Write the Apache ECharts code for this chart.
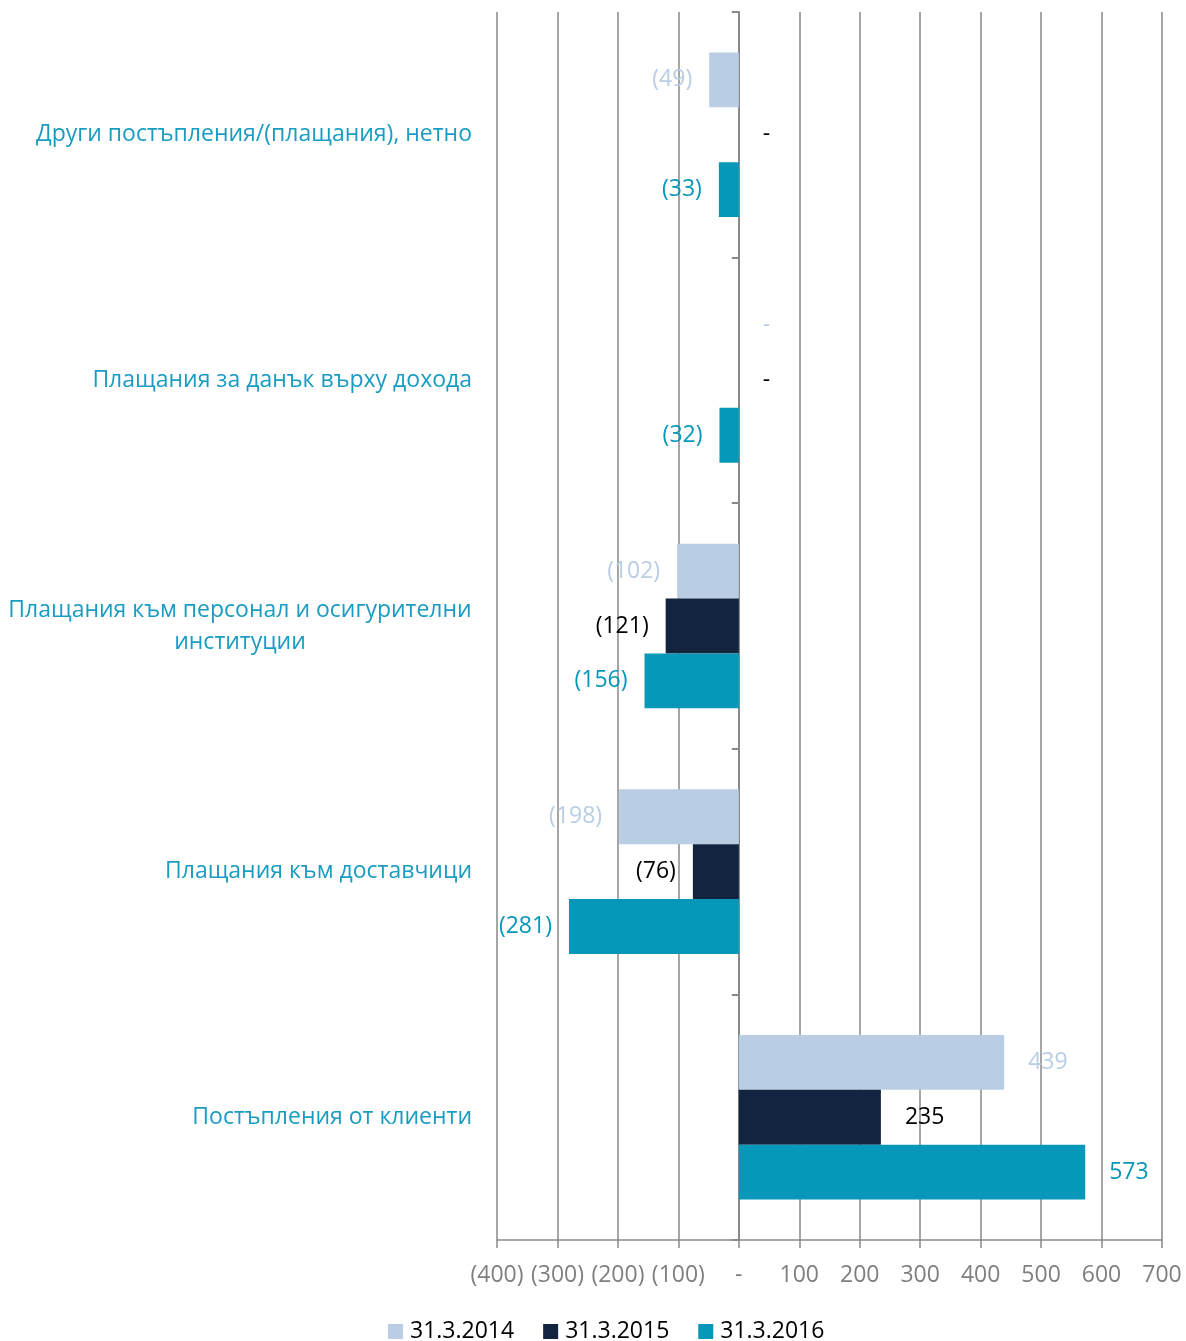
<!DOCTYPE html>
<html>
<head>
<meta charset="utf-8">
<script src="https://cdn.jsdelivr.net/npm/echarts@6/dist/echarts.min.js"></script>
<style>
  html, body { margin: 0; padding: 0; background: #fff; }
  #chart { width: 1186px; height: 1341px; }
</style>
</head>
<body>
<div id="chart"></div>
<script>
// Cash flow items (thousand BGN), top to bottom
const categories = [
  'Други постъпления/(плащания), нетно',
  'Плащания за данък върху дохода',
  'Плащания към персонал и осигурителни институции',
  'Плащания към доставчици',
  'Постъпления от клиенти'
];
const seriesNames = ['31.3.2014', '31.3.2015', '31.3.2016'];
const values2014 = [-49, 0, -102, -198, 439];
const values2015 = [0, 0, -121, -76, 235];
const values2016 = [-33, -32, -156, -281, 573];
const axisMin = -400;
const axisMax = 700;
const axisStep = 100;

const FONT = '"Open Sans", "Noto Sans", sans-serif';
const barColors = ['#b9cde5', '#12243f', '#0797b9'];
const labelColors = ['#b9cde5', '#000000', '#0797b9'];
const catColor = '#1a9cc2';
const gridColor = '#898989';

// accounting style: negatives in brackets, zero as a dash
function fmt(v) {
  if (v < 0) return '(' + Math.abs(v) + ')';
  if (v === 0) return '-';
  return String(v);
}

// width of a text line, used to centre the wrapped category label
function textWidth(s, size) {
  const c = document.createElement('canvas').getContext('2d');
  c.font = size + 'px ' + FONT;
  return Math.ceil(c.measureText(s).width);
}
const catSize = 23;
const wrapFirst = 'Плащания към персонал и осигурителни';
const wrapWidth = textWidth(wrapFirst, catSize);

function catFormatter(name) {
  if (name.indexOf(wrapFirst) === 0 && name.length > wrapFirst.length) {
    const rest = name.slice(wrapFirst.length + 1);
    return '{c|' + wrapFirst + '}\n{c|' + rest + '}';
  }
  return name;
}

function buildData(values) {
  return values.map(v => ({
    value: v,
    label: {
      position: v < 0 ? 'left' : 'right',
      distance: v < 0 ? 17 : 24
    }
  }));
}

const allValues = [values2014, values2015, values2016];

const chart = echarts.init(document.getElementById('chart'), null, { renderer: 'canvas' });
chart.setOption({
  animation: false,
  textStyle: { fontFamily: FONT },
  grid: { left: 497, right: 24, top: 12, bottom: 101, containLabel: false },
  legend: {
    data: seriesNames,
    left: 383,
    top: 1315,
    itemWidth: 15,
    itemHeight: 15,
    itemGap: 29,
    icon: 'rect',
    textStyle: { fontSize: 23, color: '#000', fontFamily: FONT, padding: [0, 0, 0, 2] }
  },
  xAxis: {
    type: 'value',
    min: axisMin,
    max: axisMax,
    interval: axisStep,
    axisLine: { show: true, onZero: false, lineStyle: { color: gridColor, width: 1.5 } },
    axisTick: { show: true, length: 8, lineStyle: { color: gridColor, width: 1.5 } },
    splitLine: { show: true, lineStyle: { color: gridColor, width: 1.5 } },
    axisLabel: {
      formatter: fmt,
      color: '#7f7f7f',
      fontSize: 23,
      fontFamily: FONT,
      margin: 24
    }
  },
  yAxis: [
    {
      type: 'category',
      data: categories,
      inverse: true,
      axisLine: { show: true, onZero: true, lineStyle: { color: gridColor, width: 2 } },
      axisTick: { show: true, length: 7, lineStyle: { color: gridColor, width: 2 } },
      axisLabel: { show: false },
      splitLine: { show: false }
    },
    {
      type: 'category',
      data: categories,
      inverse: true,
      position: 'left',
      axisLine: { show: false, onZero: false },
      axisTick: { show: false },
      splitLine: { show: false },
      axisLabel: {
        margin: 25,
        color: catColor,
        fontSize: catSize,
        fontFamily: FONT,
        lineHeight: 32,
        formatter: catFormatter,
        rich: {
          c: {
            width: wrapWidth,
            align: 'center',
            color: catColor,
            fontSize: catSize,
            fontFamily: FONT,
            lineHeight: 32
          }
        }
      }
    }
  ],
  series: seriesNames.map((name, i) => ({
    name: name,
    type: 'bar',
    yAxisIndex: 0,
    barGap: '0%',
    barCategoryGap: '33%',
    itemStyle: { color: barColors[i] },
    label: {
      show: true,
      formatter: p => fmt(p.value),
      color: labelColors[i],
      fontSize: 23,
      fontFamily: FONT
    },
    data: buildData(allValues[i])
  }))
});
</script>
</body>
</html>
